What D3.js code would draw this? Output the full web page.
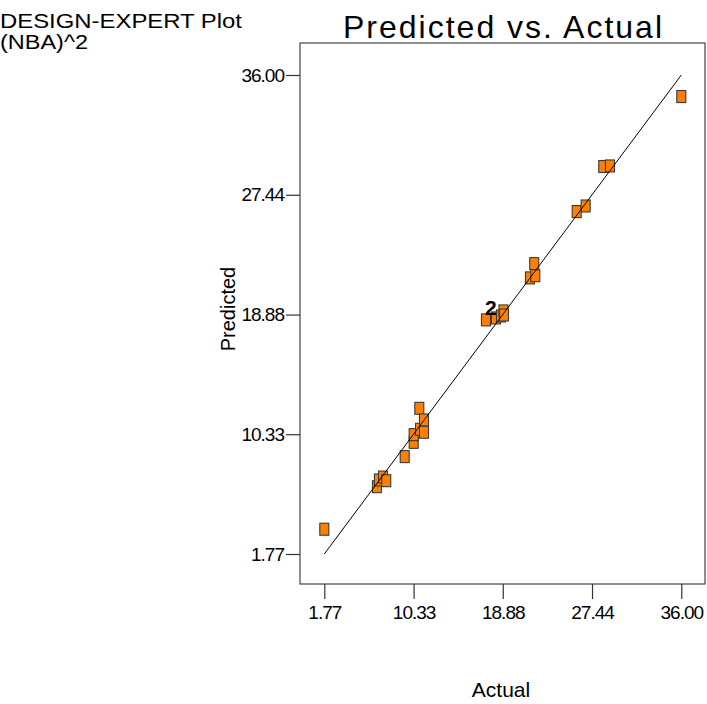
<!DOCTYPE html>
<html>
<head>
<meta charset="utf-8">
<script src="https://cdn.jsdelivr.net/npm/d3@7/dist/d3.min.js"></script>
<style>
  html, body { margin: 0; padding: 0; background: #fff; }
  svg { display: block; }
  text { font-family: "Liberation Sans", Arial, sans-serif; fill: #000; }
</style>
</head>
<body>
<svg id="chart" width="707" height="704"></svg>
<script>
// ---- data ----
const tickValues = [1.77, 10.33, 18.88, 27.44, 36.00];
const tickLabels = ["1.77", "10.33", "18.88", "27.44", "36.00"];
const actual    = [1.77, 6.82, 7.01, 7.40, 7.71, 9.48, 10.34, 10.34, 10.95, 11.33, 10.88, 11.33, 17.27, 18.23, 18.71, 18.95, 19.00, 21.49, 22.00, 21.90, 25.97, 26.83, 28.52, 29.16, 36.00];
const predicted = [3.54, 6.58, 7.06, 7.27, 7.01, 8.73, 9.75, 10.30, 10.68, 10.47, 12.18, 11.35, 18.50, 18.64, 18.78, 19.14, 18.85, 21.50, 21.66, 22.52, 26.24, 26.64, 29.46, 29.50, 34.46];
const replicateLabels = [{index: 12, label: "2"}];
const diagonal = [1.77, 36.00];

// ---- layout ----
const svg = d3.select("#chart");
const frame = {left: 300, top: 43, right: 705, bottom: 584};
const x = d3.scaleLinear().domain([1.77, 36.00]).range([324.3, 681.3]);
const y = d3.scaleLinear().domain([1.77, 36.00]).range([554, 75]);

// header text
svg.append("text").attr("x", 0).attr("y", 28).style("font-size", "20px")
  .attr("textLength", 242).attr("lengthAdjust", "spacingAndGlyphs").text("DESIGN-EXPERT Plot");
svg.append("text").attr("x", 0).attr("y", 49).style("font-size", "20px")
  .attr("textLength", 88).attr("lengthAdjust", "spacingAndGlyphs").text("(NBA)^2");

// title
svg.append("text").attr("x", 343).attr("y", 38)
  .style("font-size", "32px").attr("textLength", 319).attr("lengthAdjust", "spacing")
  .text("Predicted vs. Actual");

// frame
svg.append("rect")
  .attr("x", frame.left).attr("y", frame.top)
  .attr("width", frame.right - frame.left).attr("height", frame.bottom - frame.top)
  .attr("fill", "none").attr("stroke", "#444").attr("stroke-width", 1.2);

// axes
const xAxis = d3.axisBottom(x).tickValues(tickValues)
  .tickFormat((d, i) => tickLabels[i]).tickSize(15).tickPadding(7);
const gx = svg.append("g").attr("transform", `translate(0,${frame.bottom})`).call(xAxis);
gx.select(".domain").remove();
gx.selectAll(".tick line").attr("stroke", "#333").attr("stroke-width", 1.2);
gx.selectAll(".tick text").style("font-size", "19px").attr("fill", "#000")
  .style("font-family", "'Liberation Sans', Arial, sans-serif").style("letter-spacing", "-1px");

const yAxis = d3.axisLeft(y).tickValues(tickValues)
  .tickFormat((d, i) => tickLabels[i]).tickSize(14).tickPadding(2);
const gy = svg.append("g").attr("transform", `translate(${frame.left},0)`).call(yAxis);
gy.select(".domain").remove();
gy.selectAll(".tick line").attr("stroke", "#333").attr("stroke-width", 1.2);
gy.selectAll(".tick text").style("font-size", "19px").attr("fill", "#000")
  .style("font-family", "'Liberation Sans', Arial, sans-serif").style("letter-spacing", "-1px");

// axis titles
svg.append("text").attr("x", 501).attr("y", 697).attr("text-anchor", "middle")
  .style("font-size", "21px").text("Actual");
svg.append("text").attr("transform", "translate(235,309) rotate(-90)").attr("text-anchor", "middle")
  .style("font-size", "20px").text("Predicted");

// points
const pts = actual.map((a, i) => ({a, p: predicted[i]}));
svg.append("g").selectAll("rect").data(pts).join("rect")
  .attr("x", d => x(d.a) - 4.5).attr("y", d => y(d.p) - 6)
  .attr("width", 9).attr("height", 12)
  .attr("fill", "#FF8000").attr("stroke", "#3a3a3a").attr("stroke-width", 1.1);

// replicate labels
svg.append("g").selectAll("text").data(replicateLabels).join("text")
  .attr("x", d => x(actual[d.index]) + 5).attr("y", d => y(predicted[d.index]) - 5)
  .attr("text-anchor", "middle").style("font-size", "21px").style("font-weight", "bold")
  .text(d => d.label);

// diagonal line
svg.append("line")
  .attr("x1", x(diagonal[0])).attr("y1", y(diagonal[0]))
  .attr("x2", x(diagonal[1])).attr("y2", y(diagonal[1]))
  .attr("stroke", "#000").attr("stroke-width", 1);
</script>
</body>
</html>
